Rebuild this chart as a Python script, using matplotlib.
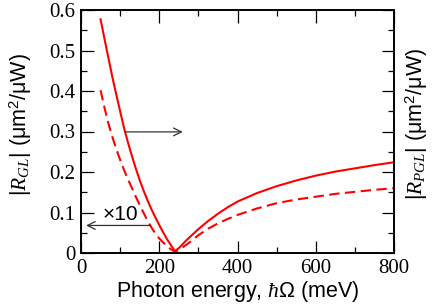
import matplotlib
matplotlib.use("Agg")
import matplotlib.pyplot as plt
from matplotlib.ticker import MultipleLocator

plt.rcParams['font.family'] = 'serif'
plt.rcParams['font.serif'] = ['Liberation Serif', 'Times New Roman', 'Nimbus Roman',
                              'DejaVu Serif']
plt.rcParams['mathtext.fontset'] = 'custom'
plt.rcParams['mathtext.rm'] = 'Liberation Sans'
plt.rcParams['mathtext.it'] = 'Liberation Serif:italic'
plt.rcParams['mathtext.fallback'] = 'stix'

# Data
energy = [50, 60, 70, 80, 90, 100, 110, 120, 130, 140, 150, 160, 170, 180, 190,
          200, 210, 220, 230, 240, 250, 260, 270, 280, 300, 325, 350, 375, 400,
          450, 500, 550, 600, 650, 700, 750, 800]
r_gl = [0.577, 0.529, 0.482, 0.435, 0.392, 0.350, 0.309, 0.273, 0.240, 0.209,
        0.180, 0.154, 0.130, 0.108, 0.088, 0.069, 0.051, 0.034, 0.019, 0.005,
        0.012, 0.022, 0.032, 0.041, 0.059, 0.079, 0.097, 0.113, 0.127,
        0.148, 0.165, 0.179, 0.191, 0.201, 0.209, 0.217, 0.224]
r_pgl = [0.402, 0.359, 0.320, 0.287, 0.257, 0.230, 0.205, 0.182, 0.161, 0.139,
         0.119, 0.099, 0.080, 0.063, 0.048, 0.036, 0.026, 0.017, 0.009, 0.003,
         0.007, 0.014, 0.021, 0.028, 0.044, 0.060, 0.073, 0.084, 0.094,
         0.110, 0.123, 0.132, 0.139, 0.146, 0.151, 0.156, 0.160]
x_ticks = [0, 200, 400, 600, 800]
x_tick_labels = ['0', '200', '400', '600', '800']
y_ticks = [0, 0.1, 0.2, 0.3, 0.4, 0.5, 0.6]
y_tick_labels = ['0', '0.1', '0.2', '0.3', '0.4', '0.5', '0.6']

W, H = 436, 305
fig = plt.figure(figsize=(W / 100, H / 100), dpi=100)
ax = fig.add_axes([81 / W, 1 - 253 / H, (394 - 81) / W, (253 - 10) / H])

ax.plot(energy, r_gl, color='#ff0000', lw=1.5)
ax.plot(energy, r_pgl, color='#ff0000', lw=1.5, dashes=(5, 2.6))

ax.set_xlim(0, 800)
ax.set_ylim(0, 0.6)
ax.xaxis.set_minor_locator(MultipleLocator(100))
ax.yaxis.set_minor_locator(MultipleLocator(0.05))
ax.tick_params(which='both', direction='in', top=True, right=True, width=0.9)
ax.tick_params(which='major', length=9, pad=4, labelsize=15)
ax.tick_params(which='minor', length=4.5)
ax.set_xticks(x_ticks)
ax.set_xticklabels(x_tick_labels, fontfamily='Liberation Serif')
ax.set_yticks(y_ticks)
ax.set_yticklabels(y_tick_labels, fontfamily='Liberation Serif')
for s in ax.spines.values():
    s.set_linewidth(1.4)

fig.text(238 / W, 1 - 292 / H, r'Photon energy, $\hbar\Omega$ (meV)', fontsize=15.5,
         family='Liberation Sans', ha='center', va='center')
fig.text(21 / W, 1 - 125 / H, r'$|R_{GL}|$ (μm$^2$/μW)', fontsize=15.5,
         family='Liberation Sans', rotation=90, ha='center', va='center')
fig.text(417 / W, 1 - 124 / H, r'$|R_{PGL}|$ (μm$^2$/μW)', fontsize=15.5,
         family='Liberation Sans', rotation=90, ha='center', va='center')

ax.annotate('', xy=(260, 0.299), xytext=(112, 0.299),
            arrowprops=dict(arrowstyle='->', color='#333333', lw=0.9,
                            mutation_scale=14, shrinkA=0, shrinkB=0))
ax.annotate('', xy=(13, 0.068), xytext=(178, 0.068),
            arrowprops=dict(arrowstyle='->', color='#333333', lw=0.9,
                            mutation_scale=14, shrinkA=0, shrinkB=0))
ax.text(100, 0.094, '×10', fontsize=15, family='Liberation Sans',
        ha='center', va='center')

fig.savefig('out.png', dpi=100)
